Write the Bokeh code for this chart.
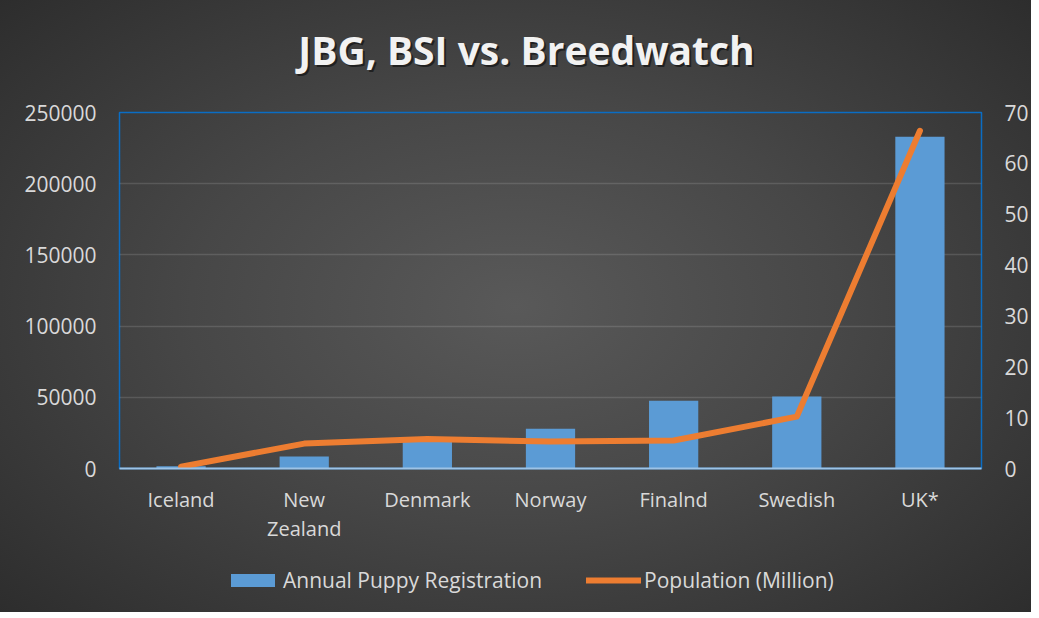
from bokeh.plotting import figure
from bokeh.layouts import column
from bokeh.models import (Range1d, LinearAxis, CategoricalAxis, Legend, LegendItem, Label,
                          FixedTicker, ColumnDataSource, FactorRange, BasicTickFormatter,
                          CustomJSTickFormatter)
from bokeh.embed import file_html
from bokeh.resources import INLINE

categories = ["Iceland", "New Zealand", "Denmark", "Norway", "Finalnd", "Swedish", "UK*"]
registrations = [1500, 8500, 22000, 28000, 47500, 50500, 233000]
population = [0.36, 4.9, 5.8, 5.3, 5.5, 10.2, 66.4]
left_ticks = [0, 50000, 100000, 150000, 200000, 250000]
right_ticks = [0, 10, 20, 30, 40, 50, 60, 70]
title_text = "JBG, BSI vs. Breedwatch"
series_names = ["Annual Puppy Registration", "Population (Million)"]

FONT = "Open Sans"
TXT = "#d9d9d9"
W = 1031

src = ColumnDataSource(dict(cat=categories, reg=registrations, pop=population))
xr = FactorRange(*categories, range_padding=0)

def bare(h, y_range):
    f = figure(width=W, height=h, x_range=xr, y_range=y_range,
               x_axis_location=None, y_axis_location=None, output_backend="svg",
               toolbar_location=None, min_border=0)
    f.border_fill_color = None
    f.background_fill_color = None
    f.outline_line_color = None
    f.grid.grid_line_color = None
    return f

# ---- title strip (frame is aligned with the main chart's frame)
t = bare(96, Range1d(0, 1))
for dx, dy, col, a in [(2, -2, "#000000", 0.5), (0, 0, "#f2f2f2", 1.0)]:
    t.add_layout(Label(x=407 + dx, y=47 + dy, x_units="screen", y_units="screen",
                       text=title_text, text_align="center", text_baseline="alphabetic",
                       text_font=FONT, text_font_style="bold", text_font_size="39px",
                       text_color=col, text_alpha=a))

# ---- main chart
p = figure(width=W, height=448, x_range=xr,
           y_range=Range1d(0, 250000), output_backend="svg", toolbar_location=None,
           min_border_left=119, min_border_right=46, min_border_top=16,
           min_border_bottom=60)
p.border_fill_color = None
p.background_fill_color = None
p.outline_line_color = "#0a6dc4"
p.outline_line_width = 1.5

p.extra_y_ranges = {"pop": Range1d(0, 70)}

bar_style = dict(fill_color="#5b9bd5", line_color=None)
line_style = dict(line_color="#ed7d31", line_width=6, line_cap="round", line_join="round")
bars = p.vbar(x="cat", top="reg", width=0.4, source=src, **bar_style)
line = p.line(x="cat", y="pop", source=src, y_range_name="pop", **line_style)

p.yaxis.ticker = FixedTicker(ticks=left_ticks)
p.yaxis.formatter = BasicTickFormatter(use_scientific=False)
ax_r = LinearAxis(y_range_name="pop", ticker=FixedTicker(ticks=right_ticks))
p.add_layout(ax_r, "right")
for ax in [p.yaxis[0], ax_r]:
    ax.axis_line_color = None
    ax.major_tick_line_color = None
    ax.minor_tick_line_color = None
    ax.major_label_text_font = FONT
    ax.major_label_text_font_size = "21px"
    ax.major_label_text_color = TXT
    ax.major_label_standoff = 17

ax_x2 = CategoricalAxis()
p.add_layout(ax_x2, "below")
p.xaxis[0].formatter = CustomJSTickFormatter(
    code="return tick == 'New Zealand' ? 'New' : tick")
ax_x2.formatter = CustomJSTickFormatter(
    code="return tick == 'New Zealand' ? 'Zealand' : ' '")
for ax, std in [(p.xaxis[0], 11), (ax_x2, -7)]:
    ax.major_tick_line_color = None
    ax.minor_tick_line_color = None
    ax.major_label_text_font = FONT
    ax.major_label_text_font_size = "20px"
    ax.major_label_text_color = TXT
    ax.major_label_standoff = std
p.xaxis[0].axis_line_color = "#9dc3e6"
p.xaxis[0].axis_line_width = 2
ax_x2.axis_line_color = None

p.xgrid.grid_line_color = None
p.ygrid.grid_line_color = "#ffffff"
p.ygrid.grid_line_alpha = 0.13
p.ygrid.grid_line_width = 1.5
p.ygrid.ticker = FixedTicker(ticks=left_ticks)

# ---- legend strip: same data, zero-width / off-range, used only for the legend swatches
q = bare(68, Range1d(-1000010, -1000000))
lb = q.vbar(x="cat", top="reg", width=0, source=src, **bar_style)
ll = q.line(x="cat", y="pop", source=src, **line_style)
legend = Legend(items=[LegendItem(label=series_names[0], renderers=[lb]),
                       LegendItem(label=series_names[1], renderers=[ll])],
                orientation="horizontal", location=(106, 18),
                background_fill_alpha=0, border_line_color=None,
                label_text_font=FONT, label_text_font_size="21px",
                label_text_color=TXT, glyph_width=55, glyph_height=16,
                label_standoff=3, spacing=44, margin=0, padding=6)
q.add_layout(legend, "center")

layout = column(t, p, q, spacing=0, styles={
    "background": "radial-gradient(ellipse 70% 75% at 50% 50%, #595959 0%, #474747 45%, #2c2c2c 100%)"})

open("out.html", "w").write(file_html(layout, INLINE))
